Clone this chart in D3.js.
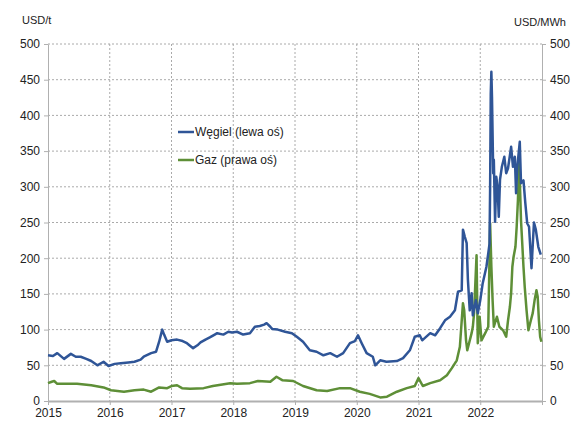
<!DOCTYPE html>
<html>
<head>
<meta charset="utf-8">
<script src="https://cdn.jsdelivr.net/npm/d3@7"></script>
<style>
    body { margin: 0; background: #fff; }
    text { font-family: "Liberation Sans", Arial, sans-serif; fill: #222; }
</style>
</head>
<body>
<div id="chart"></div>
<script>
// coal price, USD/t (left axis) - [decimal year, value]
var coal = [
    [2015.00, 64], [2015.08, 63], [2015.15, 67], [2015.26, 59], [2015.37, 66], [2015.45, 62],
    [2015.53, 62], [2015.62, 59], [2015.70, 56], [2015.80, 50], [2015.90, 55], [2015.98, 49],
    [2016.08, 52], [2016.18, 53], [2016.30, 54], [2016.40, 55], [2016.50, 58], [2016.55, 62],
    [2016.67, 67], [2016.75, 69], [2016.80, 83], [2016.85, 100], [2016.88, 93], [2016.93, 83],
    [2017.00, 85], [2017.09, 86], [2017.18, 84], [2017.25, 81], [2017.35, 74], [2017.42, 78],
    [2017.47, 82], [2017.55, 86], [2017.62, 89], [2017.70, 93], [2017.74, 95], [2017.84, 93],
    [2017.92, 97], [2017.98, 96], [2018.06, 97], [2018.16, 93], [2018.27, 95], [2018.35, 104],
    [2018.43, 105], [2018.50, 107], [2018.54, 109], [2018.60, 104], [2018.63, 101], [2018.72, 100],
    [2018.84, 97], [2018.95, 95], [2019.03, 90], [2019.13, 83], [2019.24, 71], [2019.35, 69],
    [2019.46, 64], [2019.57, 67], [2019.68, 62], [2019.78, 67], [2019.89, 81], [2019.97, 84],
    [2020.02, 92], [2020.08, 81], [2020.16, 67], [2020.26, 62], [2020.30, 50], [2020.38, 57],
    [2020.48, 55], [2020.65, 56], [2020.75, 60], [2020.86, 71], [2020.94, 90], [2021.02, 92],
    [2021.06, 85], [2021.19, 95], [2021.27, 92], [2021.35, 102], [2021.43, 113], [2021.51, 118],
    [2021.59, 127], [2021.64, 153], [2021.70, 155], [2021.72, 240], [2021.75, 230], [2021.78, 221],
    [2021.80, 170], [2021.83, 127], [2021.86, 151], [2021.88, 120], [2021.93, 141], [2021.96, 123],
    [2022.00, 141], [2022.04, 165], [2022.10, 188], [2022.13, 207], [2022.15, 220], [2022.16, 300],
    [2022.17, 430], [2022.18, 461], [2022.19, 426], [2022.21, 319], [2022.22, 338], [2022.24, 251],
    [2022.26, 314], [2022.28, 300], [2022.30, 258], [2022.32, 310], [2022.35, 328], [2022.39, 342],
    [2022.42, 319], [2022.45, 326], [2022.50, 356], [2022.53, 328], [2022.56, 342], [2022.58, 291],
    [2022.60, 328], [2022.64, 363], [2022.66, 305], [2022.70, 309], [2022.73, 277], [2022.76, 249],
    [2022.79, 244], [2022.83, 186], [2022.87, 250], [2022.90, 240], [2022.94, 216], [2022.98, 205]
];

// gas price, USD/MWh (right axis)
var gas = [
    [2015.00, 25], [2015.06, 27], [2015.10, 28], [2015.15, 24], [2015.47, 24], [2015.70, 22],
    [2015.90, 19], [2016.02, 15], [2016.23, 13], [2016.40, 15], [2016.55, 16], [2016.67, 13],
    [2016.80, 19], [2016.93, 18], [2017.00, 21], [2017.09, 22], [2017.17, 18], [2017.30, 17],
    [2017.52, 18], [2017.67, 21], [2017.95, 25], [2018.06, 24], [2018.27, 25], [2018.40, 28],
    [2018.60, 27], [2018.70, 34], [2018.80, 29], [2018.97, 28], [2019.13, 21], [2019.35, 15],
    [2019.52, 14], [2019.73, 18], [2019.89, 18], [2020.05, 13], [2020.21, 10], [2020.38, 5],
    [2020.49, 6], [2020.65, 13], [2020.81, 18], [2020.94, 21], [2021.00, 32], [2021.07, 21],
    [2021.19, 25], [2021.35, 29], [2021.46, 36], [2021.54, 46], [2021.62, 57], [2021.67, 76],
    [2021.72, 137], [2021.74, 127], [2021.77, 85], [2021.79, 71], [2021.86, 95], [2021.88, 104],
    [2021.90, 123], [2021.94, 204], [2021.96, 81], [2021.99, 118], [2022.02, 85], [2022.08, 95],
    [2022.13, 104], [2022.16, 249], [2022.18, 188], [2022.20, 141], [2022.22, 104], [2022.27, 118],
    [2022.31, 104], [2022.37, 99], [2022.42, 90], [2022.45, 113], [2022.48, 132], [2022.50, 151],
    [2022.52, 188], [2022.54, 202], [2022.57, 216], [2022.59, 244], [2022.61, 281], [2022.63, 340],
    [2022.66, 253], [2022.68, 221], [2022.70, 188], [2022.72, 160], [2022.75, 127], [2022.78, 99],
    [2022.82, 113], [2022.85, 123], [2022.88, 141], [2022.91, 155], [2022.93, 146], [2022.95, 113],
    [2022.97, 90], [2022.99, 83]
];

var years = [2015, 2016, 2017, 2018, 2019, 2020, 2021, 2022, 2023];
var yTicks = [0, 50, 100, 150, 200, 250, 300, 350, 400, 450, 500];
var seriesNames = ["Węgiel (lewa oś)", "Gaz (prawa oś)"];
var colors = ["#2f5597", "#5e8f37"];

const svgWidth = 571, svgHeight = 423;
const mLeft = 48, mRight = 542, mTop = 44, mBottom = 401;

var svg = d3.select("#chart").append("svg")
    .attr("width", svgWidth)
    .attr("height", svgHeight);

var x = d3.scaleLinear().domain([2015, 2023]).range([mLeft, mRight]);
var yL = d3.scaleLinear().domain([0, 500]).range([mBottom, mTop]);
var yR = d3.scaleLinear().domain([0, 500]).range([mBottom, mTop]);

// grid
svg.append("g").selectAll("line")
    .data(yTicks.slice(1))
    .enter().append("line")
    .attr("x1", mLeft).attr("x2", mRight)
    .attr("y1", function(d) { return yL(d); })
    .attr("y2", function(d) { return yL(d); })
    .style("stroke", "#aaa")
    .style("stroke-dasharray", "2,2");

svg.append("g").selectAll("line")
    .data(years.slice(1, -1))
    .enter().append("line")
    .attr("x1", function(d) { return x(d); })
    .attr("x2", function(d) { return x(d); })
    .attr("y1", mTop).attr("y2", mBottom)
    .style("stroke", "#aaa")
    .style("stroke-dasharray", "2,2");

// axes
function styleAxis(g) {
    g.select(".domain").style("stroke", "#b0b0b0");
    g.selectAll(".tick line").style("stroke", "#b0b0b0");
    g.selectAll(".tick text")
        .style("font-family", '"Liberation Sans", Arial, sans-serif')
        .style("font-size", "12px")
        .style("fill", "#222");
}

svg.append("g")
    .attr("transform", `translate(${mLeft},0)`)
    .call(d3.axisLeft(yL).tickValues(yTicks).tickSize(4).tickSizeOuter(0).tickPadding(4))
    .call(styleAxis);

svg.append("g")
    .attr("transform", `translate(${mRight},0)`)
    .call(d3.axisRight(yR).tickValues(yTicks).tickSize(4).tickSizeOuter(0).tickPadding(4))
    .call(styleAxis);

svg.append("g")
    .attr("transform", `translate(0,${mBottom})`)
    .call(d3.axisBottom(x).tickValues(years).tickSize(4).tickSizeOuter(0).tickPadding(3)
        .tickFormat(function(d) { return d < 2023 ? d : ""; }))
    .call(styleAxis)
    .call(function(g) { g.select(".domain").style("stroke-width", 2); });

// lines
var line = function(scale) {
    return d3.line()
        .x(function(d) { return x(d[0]); })
        .y(function(d) { return scale(d[1]); });
};

svg.append("path")
    .datum(gas)
    .attr("d", line(yR))
    .style("fill", "none")
    .style("stroke", colors[1])
    .style("stroke-width", 2.5)
    .style("stroke-linejoin", "round");

svg.append("path")
    .datum(coal)
    .attr("d", line(yL))
    .style("fill", "none")
    .style("stroke", colors[0])
    .style("stroke-width", 2.5)
    .style("stroke-linejoin", "round");

// legend
var legend = svg.append("g").selectAll("g")
    .data(seriesNames)
    .enter().append("g")
    .attr("transform", function(d, i) { return `translate(178,${132 + i * 28})`; });

legend.append("line")
    .attr("x1", 0).attr("x2", 16)
    .style("stroke", function(d, i) { return colors[i]; })
    .style("stroke-width", 2.5);

legend.append("text")
    .attr("x", 17).attr("y", 4)
    .style("font-size", "12px")
    .text(function(d) { return d; });

// units
svg.append("text")
    .attr("x", 22).attr("y", 24)
    .style("font-size", "11px")
    .text("USD/t");

svg.append("text")
    .attr("x", 566).attr("y", 26)
    .attr("text-anchor", "end")
    .style("font-size", "11px")
    .text("USD/MWh");
</script>
</body>
</html>
